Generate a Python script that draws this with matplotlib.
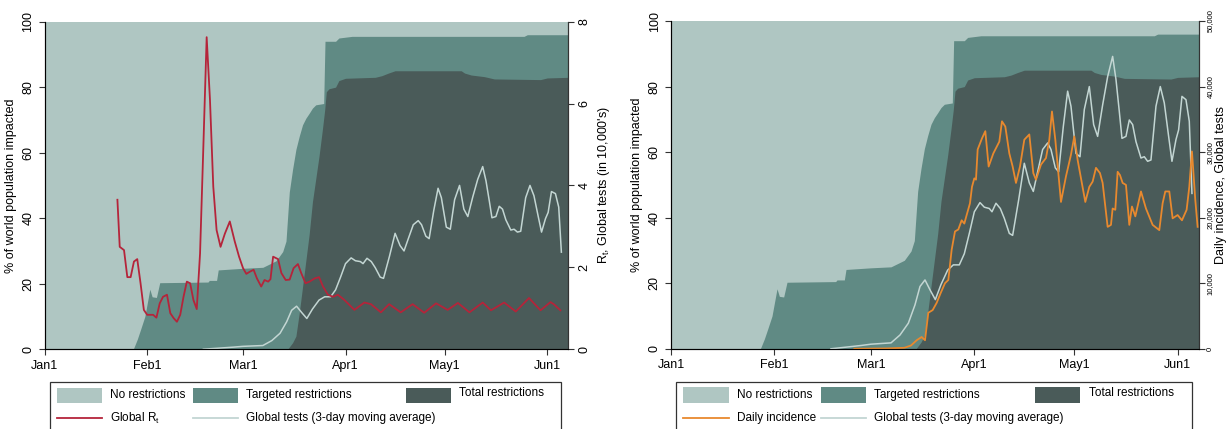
import matplotlib
matplotlib.use("Agg")
import matplotlib.pyplot as plt
from matplotlib.patches import Rectangle
from matplotlib.lines import Line2D
from matplotlib.ticker import FuncFormatter

# x values are days since Jan 1, 2020
month_ticks = [0, 31, 60, 91, 121, 152]
month_labels = ["Jan1", "Feb1", "Mar1", "Apr1", "May1", "Jun1"]

# % of world population under any restriction (targeted + total)
any_days = [0, 26.8, 28, 29, 30.3, 31.8, 32.5, 33.8, 34.8, 49.4, 49.8, 52, 52.5, 60, 66, 68,
            70, 72, 73, 74, 75, 76, 77, 78, 79, 80, 81, 82, 84.4, 84.8, 88, 89, 93, 145,
            146, 158.5]
any_pct = [0, 0, 3, 6, 10, 18.3, 16, 15.8, 20.3, 20.5, 21, 21, 24.2, 24.7, 25, 26,
           27, 29.8, 33, 48, 55, 61, 65, 68.5, 70.5, 72, 73.6, 74.6, 75, 94, 94, 95, 95.5, 95.5,
           96, 96]

# % of world population under total restrictions
total_days = [0, 73.5, 75, 76, 77, 78, 79, 80, 81, 82, 83, 84, 84.7, 85.2, 86, 88, 89, 91,
              100, 102, 104, 106, 126, 127, 129, 133, 136, 150, 152, 158.5]
total_pct = [0, 0, 2, 4, 11, 19, 27, 35, 45, 52, 59, 67, 73, 78.6, 79.5, 80, 82, 82.7,
             83, 83.5, 84.3, 85, 85, 84.3, 83.7, 83.2, 82.5, 82.3, 82.8, 83]

# Global R_t
rt_days = [22, 22.7, 24, 25, 26, 27, 28, 29, 30, 31, 32.8, 33.8, 34.8, 35.8, 37, 38, 39, 40,
           41, 42, 43, 44, 45, 46, 47, 48, 49, 50, 51, 52, 53.2, 54.5, 56, 57.5, 58.8, 60,
           61, 62, 63.2, 64.2, 65.5, 66.5, 67.6, 68.3, 69.1, 70.6, 71.6, 72.9, 74.1, 75.3,
           76.6, 77.6, 78.9, 80.1, 81.7, 83, 84.2, 85.7, 87.2, 88.7, 90.7, 93.7, 96.7, 98.7,
           101.7, 104.2, 107.7, 111.3, 114.8, 118.4, 121.9, 125, 128.5, 132.5, 135, 139,
           142.5, 146.5, 150, 153, 154, 156]
rt_vals = [3.65, 2.5, 2.42, 1.76, 1.76, 2.14, 2.2, 1.61, 0.96, 0.84, 0.84, 0.77, 1.12, 1.28,
           1.33, 0.88, 0.76, 0.67, 0.84, 1.28, 1.65, 1.61, 1.2, 0.98, 2.34, 4.95, 7.62, 6.09,
           3.97, 2.91, 2.5, 2.82, 3.12, 2.63, 2.26, 1.98, 1.84, 1.89, 1.94, 1.73, 1.53, 1.69,
           1.65, 1.71, 2.26, 2.2, 1.86, 1.69, 1.7, 1.98, 2.08, 1.86, 1.61, 1.65, 1.73, 1.76,
           1.53, 1.33, 1.28, 1.33, 1.2, 0.96, 1.14, 1.1, 0.9, 1.1, 0.9, 1.1, 0.89, 1.12, 0.96,
           1.13, 0.9, 1.14, 0.95, 1.14, 0.92, 1.25, 0.95, 1.15, 1.1, 0.95]

# Global tests, 3-day moving average (in thousands)
tests_days = [48, 57, 60, 63, 66, 68.7, 71.2, 73.2, 74.7, 76.2, 77.7, 79.3, 81, 83, 84.7,
              86.5, 88, 89.5, 91, 92.7, 94, 95.5, 96.3, 97.5, 98.8, 100, 101.5, 102.5, 104.3,
              106, 107.5, 108.7, 110, 111.5, 113, 114, 115.3, 116.3, 117.7, 119, 120, 121.5,
              122.7, 124, 125.5, 126.8, 128, 129.5, 131, 132.5, 133.5, 134.5, 135.3, 136.5,
              137.5, 138.5, 139.5, 141, 142, 143, 144, 145.5, 146.8, 148, 149.3, 150.3, 151.5,
              152.3, 153.3, 154.5, 155.5, 156.3]
tests_k = [0, 0.5, 0.7, 0.8, 0.9, 2.1, 3.9, 6.7, 9.5, 10.5, 9.0, 7.5, 9.8, 12.0, 12.8, 12.8,
           14.5, 17.6, 20.9, 22.3, 21.6, 21.4, 20.9, 22.2, 21.4, 19.9, 17.6, 17.3, 22.7, 28.3,
           25.3, 24.0, 27.0, 30.4, 31.4, 30.4, 27.6, 27.0, 33.9, 39.3, 37.0, 29.8, 29.3, 36.5,
           40.0, 34.2, 32.4, 37.2, 41.5, 44.6, 41.1, 36.2, 32.1, 32.4, 34.9, 34.2, 31.6, 29.1,
           29.3, 28.6, 28.8, 37.0, 40.0, 37.5, 32.4, 28.6, 31.9, 33.4, 38.5, 38.0, 34.7, 23.7]

# Daily incidence (in thousands)
inc_days = [55, 64.7, 70, 72, 73.7, 75.2, 76.2, 77.2, 78.5, 79.7, 80.9, 82.2, 83.2, 84.2,
            85.2, 86.2, 87.2, 88, 88.7, 89.7, 90.3, 91, 91.5, 92, 93.3, 94.3, 95.3, 96.7, 98,
            98.5, 99.3, 100.3, 101.5, 102.5, 103.5, 104.7, 106, 107.5, 108.7, 109.5, 111,
            112.5, 113.5, 114.3, 115.3, 117, 118.5, 120, 121, 122, 124.3, 125.5, 126.5, 127.5,
            128.7, 129.5, 131, 132, 132.5, 133.3, 134, 134.7, 135.5, 136.5, 137.5, 138.3,
            139.3, 141, 142.5, 144.5, 146.5, 147.5, 148.3, 149.5, 150.5, 152, 153.3, 154.7,
            155.5, 156.3, 157.3, 158]
inc_k = [0, 0.05, 0.15, 0.5, 1.3, 1.8, 1.3, 5.5, 5.9, 7.0, 8.5, 10.0, 10.5, 15.1, 17.9,
         18.2, 19.6, 19.1, 20.4, 22.2, 24.7, 26.0, 25.8, 30.4, 32.1, 33.2, 27.8, 29.8, 31.1,
         31.6, 34.7, 33.9, 29.8, 27.8, 25.3, 27.8, 31.9, 32.7, 26.8, 25.8, 28.1, 29.1, 31.9,
         36.2, 31.9, 22.4, 26.3, 29.6, 32.4, 28.8, 22.4, 24.7, 25.5, 27.6, 26.8, 25.3, 18.6,
         18.9, 21.4, 21.2, 27.0, 26.5, 25.3, 25.0, 18.9, 21.7, 20.2, 24.0, 21.4, 18.9, 18.1,
         22.2, 24.0, 24.0, 19.9, 20.4, 19.6, 21.2, 24.7, 30.1, 22.7, 18.6]

c_none = "#afc6c2"
c_targeted = "#608a84"
c_total = "#4a5b59"
c_rt = "#b5243a"
c_tests = "#c3d6d3"
c_inc = "#e8892e"
c_axis = "#333333"

plt.rcParams["font.family"] = ["Liberation Sans", "DejaVu Sans"]
plt.rcParams["font.size"] = 9


def draw_areas(ax):
    ax.fill_between([0, 158.5], [100, 100], color=c_none, lw=0)
    ax.fill_between(any_days, any_pct, color=c_targeted, lw=0)
    ax.fill_between(total_days, total_pct, color=c_total, lw=0)
    ax.set_xlim(0, 158.3)
    ax.set_ylim(0, 100)
    ax.set_xticks(month_ticks)
    ax.set_xticklabels(month_labels, fontsize=9)
    ax.set_yticks([0, 20, 40, 60, 80, 100])
    ax.tick_params(axis="y", labelrotation=90, labelsize=9)
    for lab in ax.get_yticklabels():
        lab.set_va("center")
    ax.tick_params(color=c_axis, length=4)
    ax.set_ylabel("% of world population impacted", fontsize=9)
    ax.spines["top"].set_visible(False)
    for s in ("left", "bottom", "right"):
        ax.spines[s].set_color(c_axis)


def style_right(ax2):
    ax2.spines["top"].set_visible(False)
    ax2.spines["right"].set_color(c_axis)
    ax2.tick_params(axis="y", labelrotation=90, color=c_axis, length=4)
    for lab in ax2.get_yticklabels():
        lab.set_va("center")


def add_legend(ax, line_color, line_label):
    # Stata-like legend box under the plot, bottom runs off the figure
    tr = ax.transAxes
    ax.add_patch(Rectangle((0.010, -0.40), 0.977, 0.40 - 0.1007, transform=tr,
                           facecolor="white", edgecolor=c_axis, lw=0.9, clip_on=False))
    row1, row2 = -0.141, -0.2106
    ph = 0.046
    items = [(0.0235, c_none, "No restrictions"),
             (0.2834, c_targeted, "Targeted restrictions"),
             (0.690, c_total, "Total restrictions")]
    for x0, col, lab in items:
        ax.add_patch(Rectangle((x0, row1 - ph / 2), 0.086, ph, transform=tr,
                               facecolor=col, edgecolor="none", clip_on=False))
        ax.text(x0 + 0.1015, row1 + (0.006 if lab.startswith("Total") else 0), lab,
                transform=tr, va="center", ha="left", fontsize=8.5)
    lines = [(0.0235, line_color, line_label),
             (0.2834, c_tests, "Global tests (3-day moving average)")]
    for x0, col, lab in lines:
        ax.add_line(Line2D([x0, x0 + 0.086], [row2, row2], transform=tr, color=col,
                           lw=1.3, clip_on=False))
        ax.text(x0 + 0.1015, row2, lab, transform=tr, va="center", ha="left",
                fontsize=8.5)


fig = plt.figure(figsize=(12.31, 4.29), dpi=100)

# left panel: R_t and global tests
ax1 = fig.add_axes([0.0363, 0.186, 0.4251, 0.7636])
draw_areas(ax1)
ax1r = ax1.twinx()
ax1r.plot(tests_days, [v / 10 for v in tests_k], color=c_tests, lw=1.1)
ax1r.plot(rt_days, rt_vals, color=c_rt, lw=1.3)
ax1r.set_ylim(0, 8)
ax1r.set_yticks([0, 2, 4, 6, 8])
style_right(ax1r)
ax1r.tick_params(axis="y", labelsize=9)
ax1r.set_ylabel("R$_\\mathregular{t}$, Global tests (in 10,000's)", fontsize=9)
add_legend(ax1, c_rt, "Global R$_\\mathregular{t}$")

# right panel: daily incidence and global tests
ax2 = fig.add_axes([0.5451, 0.187, 0.4286, 0.764])
draw_areas(ax2)
ax2r = ax2.twinx()
ax2r.plot(tests_days, [v * 1000 for v in tests_k], color=c_tests, lw=1.1)
ax2r.plot(inc_days, [v * 1000 for v in inc_k], color=c_inc, lw=1.3)
ax2r.set_ylim(0, 50000)
ax2r.set_yticks([0, 10000, 20000, 30000, 40000, 50000])
ax2r.yaxis.set_major_formatter(FuncFormatter(lambda v, p: f"{int(v):,}"))
style_right(ax2r)
ax2r.tick_params(axis="y", labelsize=5.5, pad=2)
ax2r.set_ylabel("Daily incidence, Global tests", fontsize=9, labelpad=1)
add_legend(ax2, c_inc, "Daily incidence")

fig.savefig("out.png", dpi=100)
